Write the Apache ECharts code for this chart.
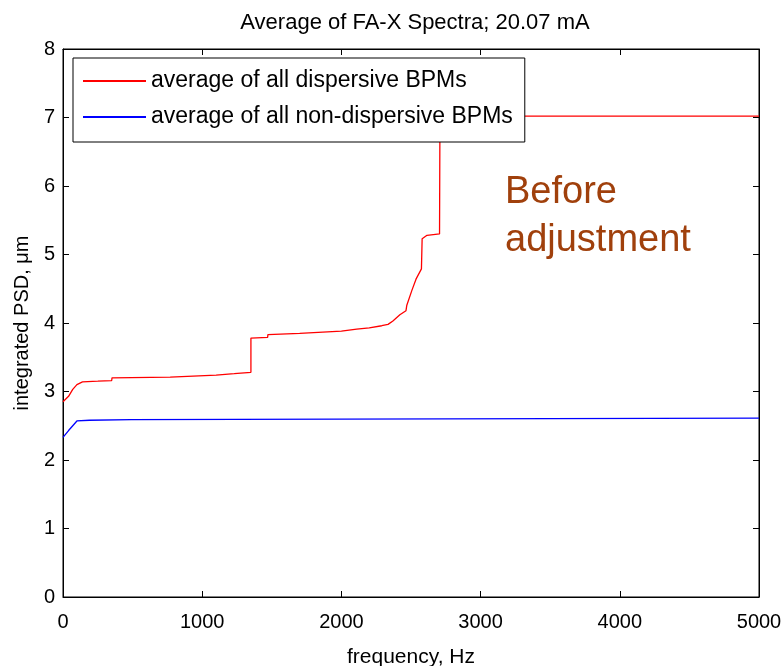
<!DOCTYPE html>
<html>
<head>
<meta charset="utf-8">
<script src="https://cdn.jsdelivr.net/npm/echarts@6/dist/echarts.min.js"></script>
<style>
html,body{margin:0;padding:0;background:#fff;}
#chart{width:784px;height:666px;}
</style>
</head>
<body>
<div id="chart"></div>
<script>
const titleText = 'Average of FA-X Spectra; 20.07 mA';
const xName = 'frequency, Hz';
const yName = 'integrated PSD, \u03bcm';
const seriesNames = ['average of all dispersive BPMs', 'average of all non-dispersive BPMs'];
const annotation = ['Before', 'adjustment'];

const freqRed = [0, 40, 70, 100, 140, 250, 350, 352, 770, 772, 1100, 1102, 1230, 1232, 1350, 1350, 1470, 1472, 1700, 2000, 2110, 2200, 2290, 2335, 2370, 2420, 2464, 2470, 2507, 2536, 2575, 2580, 2615, 2705, 2708, 5000];
const valRed  = [2.85, 2.93, 3.03, 3.10, 3.14, 3.15, 3.16, 3.20, 3.21, 3.23, 3.24, 3.26, 3.26, 3.28, 3.28, 3.78, 3.79, 3.83, 3.85, 3.88, 3.91, 3.93, 3.96, 3.98, 4.03, 4.12, 4.18, 4.26, 4.48, 4.64, 4.79, 5.23, 5.28, 5.30, 7.02, 7.02];

const freqBlue = [0, 40, 70, 100, 190, 192, 490, 495, 5000];
const valBlue  = [2.33, 2.43, 2.50, 2.57, 2.58, 2.59, 2.59, 2.61, 2.61];

const xMin = 0, xMax = 5000, xStep = 1000;
const yMin = 0, yMax = 8, yStep = 1;

const pairs = (xs, ys) => xs.map((x, i) => [x, ys[i]]);
const FONT = "'Liberation Sans', Arial, sans-serif";

const chart = echarts.init(document.getElementById('chart'), null, {renderer: 'canvas'});

const tickStyle = {show: true, inside: true, length: 6, lineStyle: {color: '#000', width: 1}};
const axisLine = {show: true, onZero: false, lineStyle: {color: '#000', width: 1}};

chart.setOption({
  animation: false,
  backgroundColor: '#fff',
  title: {
    text: titleText, left: 410, top: 7, textAlign: 'center',
    textStyle: {fontFamily: FONT, fontSize: 22, fontWeight: 'normal', color: '#000'}
  },
  grid: {left: 63, right: 25, top: 49, bottom: 69, containLabel: false, outerBoundsMode: 'none',
         show: true, borderColor: '#000', borderWidth: 1, backgroundColor: '#fff'},
  legend: {
    orient: 'vertical', left: 73, top: 58,
    backgroundColor: '#fff', borderColor: '#000', borderWidth: 1,
    padding: [11, 12, 13, 10], itemGap: 12,
    itemWidth: 63, itemHeight: 2, icon: 'rect',
    textStyle: {fontFamily: FONT, fontSize: 23, color: '#000', lineHeight: 24},
    data: seriesNames
  },
  xAxis: [
    {type: 'value', min: xMin, max: xMax, interval: xStep, position: 'bottom',
     name: xName, nameLocation: 'middle', nameGap: 50,
     nameTextStyle: {fontFamily: FONT, fontSize: 21, color: '#000'},
     axisLine: axisLine, axisTick: tickStyle, splitLine: {show: false},
     axisLabel: {fontFamily: FONT, fontSize: 20, color: '#000', margin: 15, formatter: v => String(v)}},
    {type: 'value', min: xMin, max: xMax, interval: xStep, position: 'top',
     axisLine: axisLine, axisTick: tickStyle, splitLine: {show: false}, axisLabel: {show: false}}
  ],
  yAxis: [
    {type: 'value', min: yMin, max: yMax, interval: yStep, position: 'left',
     name: yName, nameLocation: 'middle', nameGap: 31, nameRotate: 90,
     nameTextStyle: {fontFamily: FONT, fontSize: 20, color: '#000'},
     axisLine: axisLine, axisTick: tickStyle, splitLine: {show: false},
     axisLabel: {fontFamily: FONT, fontSize: 20, color: '#000', margin: 8}},
    {type: 'value', min: yMin, max: yMax, interval: yStep, position: 'right',
     axisLine: axisLine, axisTick: tickStyle, splitLine: {show: false}, axisLabel: {show: false}}
  ],
  series: [
    {name: seriesNames[0], type: 'line', xAxisIndex: 0, yAxisIndex: 0,
     data: pairs(freqRed, valRed), showSymbol: false, symbol: 'none',
     itemStyle: {color: '#ff0000'}, lineStyle: {color: '#ff0000', width: 1.3}, z: 3},
    {name: seriesNames[1], type: 'line', xAxisIndex: 0, yAxisIndex: 0,
     data: pairs(freqBlue, valBlue), showSymbol: false, symbol: 'none',
     itemStyle: {color: '#0000ff'}, lineStyle: {color: '#0000ff', width: 1.3}, z: 3}
  ],
  graphic: [
    {type: 'text', left: 505, top: 174, z: 10,
     style: {text: annotation[0], font: "38px 'Liberation Sans', Arial, sans-serif", fill: '#a0400c'}},
    {type: 'text', left: 505, top: 222, z: 10,
     style: {text: annotation[1], font: "38px 'Liberation Sans', Arial, sans-serif", fill: '#a0400c'}}
  ]
});
</script>
</body>
</html>
